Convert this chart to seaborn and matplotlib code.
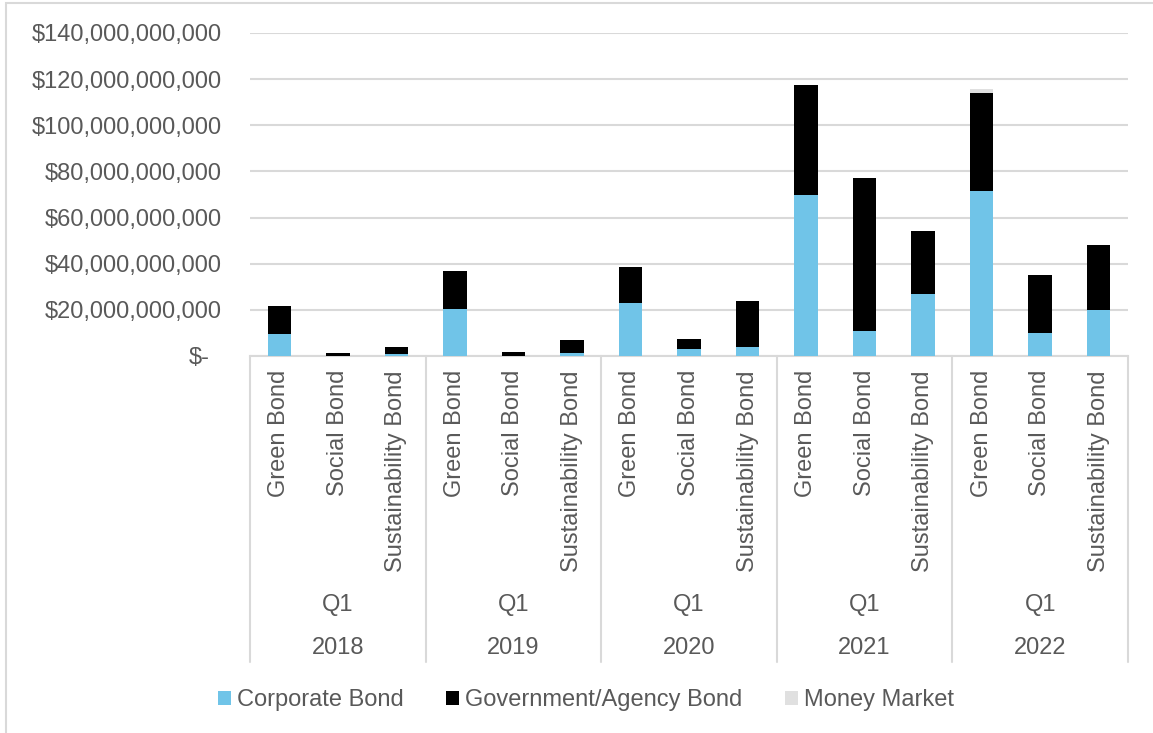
import matplotlib
matplotlib.use("Agg")
import matplotlib.pyplot as plt
import matplotlib.transforms as mtransforms
from matplotlib.patches import Patch, Rectangle
from matplotlib.ticker import FuncFormatter, MultipleLocator
import numpy as np
import pandas as pd
import seaborn as sns

# ---- data (billions of USD) ----
years = ["2018", "2019", "2020", "2021", "2022"]
quarter = "Q1"
bond_types = ["Green Bond", "Social Bond", "Sustainability Bond"]
corporate = [9.4, 0.2, 0.8, 20.2, 0.2, 1.3, 22.8, 3.0, 3.9, 69.8, 10.8, 26.9, 71.5, 10.0, 19.9]
government = [12.4, 1.0, 3.1, 16.6, 1.5, 5.5, 15.8, 4.5, 20.1, 47.7, 66.4, 27.3, 42.6, 25.1, 28.2]
money_market = [0, 0, 0, 0, 0, 0, 0, 0, 0, 0, 0, 0, 1.6, 0, 0]
series_names = ["Corporate Bond", "Government/Agency Bond", "Money Market"]

sns.set_style("white")
plt.rcParams["font.family"] = ["Liberation Sans", "DejaVu Sans"]
TEXT = "#595959"
GRID = "#d9d9d9"
colors = ["#70c4e8", "#000000", "#e0e0e0"]
FS = 17

keys = [f"{y}|{b}" for y in years for b in bond_types]
df = pd.DataFrame({
    "key": keys,
    "corp": np.array(corporate) * 1e9,
    "gov": np.array(government) * 1e9,
    "mm": np.array(money_market) * 1e9,
})
df["lvl1"] = df["corp"]
df["lvl2"] = df["corp"] + df["gov"]
df["lvl3"] = df["lvl2"] + df["mm"]

W, H = 1153, 733
fig = plt.figure(figsize=(W / 100, H / 100), dpi=100)
ax = fig.add_axes([250 / W, 1 - 356 / H, 878 / W, 323 / H])

# stacked bars drawn back-to-front from cumulative totals
for col, c in zip(["lvl3", "lvl2", "lvl1"], colors[::-1]):
    sns.barplot(data=df, x="key", y=col, order=keys, color=c, saturation=1,
                width=0.4, errorbar=None, ax=ax, linewidth=0, zorder=3)

ax.set_xlim(-0.5, len(keys) - 0.5)
ax.set_ylim(0, 140e9)
ax.yaxis.set_major_locator(MultipleLocator(20e9))
ax.yaxis.set_major_formatter(FuncFormatter(lambda v, p: "$-" if v == 0 else f"${v:,.0f}"))
ax.grid(axis="y", color=GRID, linewidth=1.5, zorder=0)
ax.set_axisbelow(True)
ax.set_xlabel("")
ax.set_ylabel("")
ax.set_xticks([])
for s in ["left", "right", "top"]:
    ax.spines[s].set_visible(False)
ax.spines["bottom"].set_color(GRID)
ax.spines["bottom"].set_linewidth(1.5)
ax.tick_params(axis="y", length=0, pad=20, labelsize=FS, labelcolor=TEXT)

fig.canvas.draw()
for lab in ax.get_yticklabels():
    if lab.get_text() == "$-":
        lab.set_transform(lab.get_transform() + mtransforms.ScaledTranslation(-0.13, 0, fig.dpi_scale_trans))

# hierarchical category axis
bt = mtransforms.blended_transform_factory(ax.transData, fig.transFigure)
fy = lambda p: 1 - p / H
for i, k in enumerate(keys):
    ax.text(i, fy(370), k.split("|")[1], rotation=90, ha="center", va="top",
            fontsize=FS, color=TEXT, transform=bt)
for g, y in enumerate(years):
    cx = g * 3 + 1
    ax.text(cx, fy(605), quarter, ha="center", va="center", fontsize=FS, color=TEXT, transform=bt)
    ax.text(cx, fy(648), y, ha="center", va="center", fontsize=FS, color=TEXT, transform=bt)
for g in range(len(years) + 1):
    xb = g * 3 - 0.5
    ax.plot([xb, xb], [fy(356), fy(662)], color=GRID, linewidth=1.5,
            transform=bt, clip_on=False)

# outer chart border
fig.patches.append(Rectangle((6 / W, -0.1), 1.2, 0.1 + fy(3), transform=fig.transFigure,
                             fill=False, edgecolor=GRID, linewidth=1.5))

handles = [Patch(facecolor=c, edgecolor="none") for c in colors]
fig.legend(handles, series_names, loc="center", bbox_to_anchor=(586 / W, fy(700)),
           ncol=3, frameon=False, fontsize=FS, labelcolor=TEXT,
           handlelength=0.55, handleheight=0.55, handletextpad=0.25,
           columnspacing=1.8, borderaxespad=0, borderpad=0)

fig.savefig("out.png", dpi=100)
